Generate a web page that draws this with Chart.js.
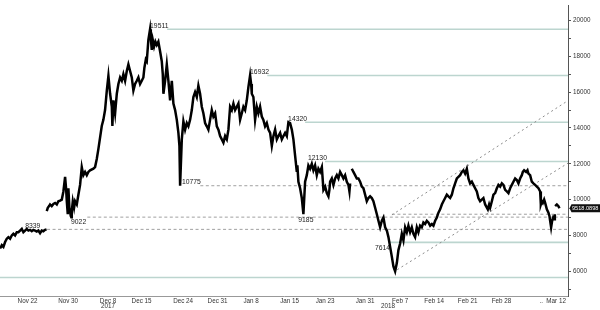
<!DOCTYPE html>
<html><head><meta charset="utf-8">
<script src="https://cdn.jsdelivr.net/npm/chart.js@4.4.1/dist/chart.umd.min.js"></script>
<style>html,body{margin:0;padding:0;background:#fff;}canvas{display:block;}</style>
</head><body>
<canvas id="c" width="600" height="310" style="width:600px;height:310px"></canvas>
<script>
// ---- time axis (days since 16 Nov 2017) ----
const tickDays   = [6.19, 14.54, 22.78, 29.69, 38.25, 45.36, 52.27, 60.2, 67.53, 75.77, 82.99, 90.0, 96.9, 103.9, 112.06, 115.15];
const tickLabels = ['Nov 22','Nov 30','Dec 8','Dec 15','Dec 24','Dec 31','Jan 8','Jan 15','Jan 23','Jan 31','Feb 7','Feb 14','Feb 21','Feb 28','..','Mar 12'];
const yearDays   = [22.78, 80.5];
const yearLabels = ['2017', '2018'];
const yTicks     = [5000,6000,7000,8000,9000,10000,11000,12000,13000,14000,15000,16000,17000,18000,19000,20000];

// ---- price series (null = gap in data) ----
const priceDays = [
0.52,0.87,1.20,1.55,1.90,2.23,2.58,2.93,3.26,3.61,3.96,4.29,4.64,4.99,5.32,5.67,6.02,6.35,6.70,7.05,7.38,7.73,8.08,8.41,8.76,9.11,9.44,9.79,10.10,
10.12,
10.14,10.35,10.62,10.82,11.16,11.51,11.86,12.21,12.54,12.89,13.24,13.57,13.92,14.12,14.27,14.47,14.60,14.80,15.09,15.20,15.30,15.51,15.77,15.98,16.33,16.66,17.01,17.36,17.69,18.04,18.39,18.72,19.07,19.75,20.10,20.45,20.78,21.48,21.81,22.16,22.52,22.85,23.20,23.55,23.67,23.88,24.23,24.58,24.91,25.26,25.61,25.94,26.29,26.64,26.97,27.32,27.67,28.00,28.35,28.70,29.03,29.38,29.73,30.06,30.27,30.56,30.76,31.09,31.44,31.59,31.79,32.00,32.27,32.54,32.82,33.15,33.51,33.85,34.06,34.19,34.54,34.89,35.22,35.57,35.92,36.25,36.60,36.95,37.28,37.49,37.63,37.98,38.31,38.66,39.01,39.34,39.69,40.04,40.37,40.72,41.07,41.40,41.75,42.10,42.43,42.78,43.13,43.46,43.81,44.16,44.49,44.85,45.20,45.53,45.88,46.23,46.56,46.91,47.26,47.59,47.94,48.29,48.62,48.97,49.32,49.65,50.00,50.35,50.68,51.03,51.38,51.71,52.06,52.27,52.41,52.74,53.09,53.44,53.77,54.12,54.47,54.80,55.15,55.50,55.84,56.19,56.54,56.87,57.22,57.57,57.90,58.25,58.60,58.93,59.28,59.63,59.96,60.31,60.66,60.99,61.34,61.69,61.81,62.02,62.37,62.72,63.05,63.40,63.75,64.08,64.43,64.78,65.11,65.46,65.81,66.14,66.49,66.85,67.18,67.53,67.88,68.21,68.41,68.56,68.91,69.24,69.59,69.94,70.27,70.62,70.97,71.30,71.65,72.00,72.33,72.54,72.68,
72.85,
73.03,73.36,73.71,74.06,74.39,74.74,75.09,75.42,75.77,76.12,76.45,76.80,77.15,77.48,77.84,78.19,78.52,78.87,79.22,79.55,79.90,80.25,80.58,80.93,81.28,81.61,81.96,82.31,82.64,82.99,83.34,83.67,84.02,84.37,84.70,85.05,85.40,85.73,86.08,86.43,86.76,87.11,87.46,87.79,88.14,88.49,88.82,89.18,89.53,89.86,90.21,90.56,90.89,91.24,91.59,91.92,92.27,92.62,92.95,93.30,93.65,93.98,94.33,94.68,95.01,95.36,95.71,96.04,96.39,96.74,97.07,97.42,97.77,98.10,98.45,98.80,99.13,99.48,99.83,100.16,100.52,101.07,101.34,101.55,101.90,102.23,102.58,102.93,103.26,103.61,103.96,104.29,104.64,104.99,105.32,105.67,106.02,106.35,106.70,107.05,107.38,107.73,108.08,108.29,108.56,108.97,109.24,109.44,109.79,110.14,110.47,110.82,111.18,111.51,111.86,112.00,112.21,112.41,112.68,112.89,113.24,113.57,113.77,113.92,114.12,114.33,114.54,114.74,114.89,
114.92,
114.95,115.30,115.63,115.84];
const priceValues = [
7275,7455,7362,7635,7820,7907,7820,8000,8093,8000,8180,8180,8273,8365,8180,8273,8365,8273,8311,8236,8311,8273,8218,8273,8125,8273,8236,8311,8339,
null,
9364,9544,9636,9729,9636,9762,9816,9729,9909,9947,10002,10455,11273,10635,9909,9184,10635,9544,9091,9022,9364,9909,9544,9909,9729,10275,10820,11818,11365,11545,11365,11545,11638,11725,11818,12271,12816,14109,14453,14998,16089,16907,15909,15200,14109,15544,14818,15909,16455,16820,16635,17000,16635,17180,17545,17180,16820,16089,16455,16635,16820,16455,16635,16820,17365,17818,17725,18909,19511,19002,18364,18909,18544,18816,18636,18816,18271,17725,17000,15909,16635,17545,16635,15544,16635,15364,14998,14453,13727,13002,10775,13362,14365,13907,14273,14093,14453,14998,15729,16002,15729,16362,15909,15184,14818,14273,14093,13907,14453,14998,14638,14818,14093,13907,13547,13362,13182,13547,13362,13907,15184,14998,15364,14998,15184,15364,14453,14818,15184,14998,15544,16275,16932,16455,15909,15729,14453,15184,14818,15184,14638,14453,14093,14273,13907,13727,13002,13547,13907,13362,13547,13727,13362,13547,13727,13547,14320,14273,13907,13362,12456,11545,11911,11000,10635,10089,9185,11000,11365,11911,11725,11998,11638,11911,11365,11725,11545,11818,10547,10727,10362,10182,10547,11000,11180,10820,11180,11365,11180,11545,11365,11180,11365,11000,10820,10455,10907,
null,
11725,11545,11365,11180,11180,11000,10727,10635,10275,9909,10089,10182,10089,9909,9544,9184,8818,8453,8818,9002,8453,8273,7907,7362,6816,6271,5998,6456,7182,7547,8093,7727,8453,8180,8545,8180,8453,8093,7907,8453,8180,8545,8453,8725,8638,8818,8725,8545,8638,8545,8818,9002,9271,9456,9729,9909,10089,10275,10182,10089,10275,10635,10907,11180,11273,11365,11545,11638,11453,11725,11180,10907,11000,10820,10635,10455,10089,9909,10002,10089,9729,9456,9729,9544,9909,10275,10362,10635,10820,10727,10907,10820,10547,10455,10362,10635,10820,11000,11180,11093,10907,11180,11365,11545,11638,11545,11638,11453,11365,11000,10907,10820,10727,10635,10455,9729,9909,9816,10002,9816,9456,9271,9091,8818,8453,8818,9002,8911,9184,
null,
9636,9729,9636,9518];
const lastPrice = 9518.0898;

// ---- marked levels ----
const levelValues     = [19511, 16932, 14320, 12130, 10775, 9185, 9022, 8339, 7614, 5656];
const levelLabels     = ['19511','16932','14320','12130','10775','9185','9022','8339','7614',''];
const levelLabelDays  = [31.44, 52.06, 59.9, 64.0, 38.0, 62.0, 15.15, 5.7, 77.8, 0.5];
const levelLabelAbove = [true, true, true, true, true, false, false, true, false, true];
const levelStartDays  = [34.95, 55.6, 63.4, 67.5, 41.8, 81.3, 18.5, 10.2, 80.9, 0.5];
const levelDashed     = [false, false, false, false, true, true, true, true, false, false];

// ---- trend channel ----
const upperTrendDays   = [81.3, 117.6];
const upperTrendValues = [9145, 15527];
const lowerTrendDays   = [82.4, 117.6];
const lowerTrendValues = [6090, 12036];

const X_MIN = 0.5, X_MAX = 117.6, Y_MIN = 4620, Y_MAX = 20820;
const FONT = '"Liberation Sans Narrow", "Liberation Sans", Arial, sans-serif';

const datasets = [];
datasets.push({
  label: 'price',
  data: priceDays.map((d, i) => ({x: d, y: priceValues[i]})),
  borderColor: '#000', borderWidth: 2.5, pointRadius: 0, tension: 0,
  spanGaps: false, order: 0, borderJoinStyle: 'miter'
});
levelValues.forEach((v, i) => {
  datasets.push({
    label: 'lvl' + i,
    data: [{x: levelStartDays[i], y: v}, {x: X_MAX, y: v}],
    borderColor: levelDashed[i] ? '#a0a0a0' : '#bcd5cf',
    borderWidth: levelDashed[i] ? 1 : 1.6,
    borderDash: levelDashed[i] ? [3, 2.5] : [],
    pointRadius: 0, order: 2
  });
});
datasets.push({
  label: 'upper', data: upperTrendDays.map((d, i) => ({x: d, y: upperTrendValues[i]})),
  borderColor: '#8c8c8c', borderWidth: 1, borderDash: [2, 3], pointRadius: 0, order: 1
});
datasets.push({
  label: 'lower', data: lowerTrendDays.map((d, i) => ({x: d, y: lowerTrendValues[i]})),
  borderColor: '#8c8c8c', borderWidth: 1, borderDash: [2, 3], pointRadius: 0, order: 1
});

const annotPlugin = {
  id: 'annot',
  afterDatasetsDraw(chart) {
    const ctx = chart.ctx, xs = chart.scales.x, ys = chart.scales.y;
    ctx.save();
    ctx.font = '6.8px ' + FONT;
    ctx.fillStyle = '#1a1a1a';
    ctx.textAlign = 'left';
    levelValues.forEach((v, i) => {
      if (!levelLabels[i]) return;
      const x = xs.getPixelForValue(levelLabelDays[i]);
      const y = ys.getPixelForValue(v);
      if (levelLabelAbove[i]) { ctx.textBaseline = 'alphabetic'; ctx.fillText(levelLabels[i], x, y - 1.5); }
      else { ctx.textBaseline = 'top'; ctx.fillText(levelLabels[i], x, y + 2); }
    });
    ctx.restore();
  },
  afterDraw(chart) {
    const ctx = chart.ctx, xs = chart.scales.x, ys = chart.scales.y;
    ctx.save();
    // year labels
    ctx.font = '6.3px ' + FONT;
    ctx.fillStyle = '#333';
    ctx.textAlign = 'center';
    ctx.textBaseline = 'middle';
    yearDays.forEach((d, i) => ctx.fillText(yearLabels[i], xs.getPixelForValue(d), 306.5));
    // last price tag
    const y = ys.getPixelForValue(lastPrice);
    const x0 = ys.left + 1.5;
    ctx.fillStyle = '#111';
    ctx.beginPath();
    ctx.moveTo(x0, y);
    ctx.lineTo(x0 + 2, y - 4);
    ctx.lineTo(600, y - 4);
    ctx.lineTo(600, y + 4);
    ctx.lineTo(x0 + 2, y + 4);
    ctx.closePath();
    ctx.fill();
    ctx.fillStyle = '#fff';
    ctx.font = '5.6px ' + FONT;
    ctx.textAlign = 'left';
    ctx.textBaseline = 'middle';
    ctx.fillText(lastPrice.toFixed(4), x0 + 2.5, y + 0.5);
    ctx.restore();
  }
};

new Chart(document.getElementById('c'), {
  type: 'line',
  data: { datasets },
  options: {
    responsive: false, animation: false, devicePixelRatio: 1,
    layout: { padding: 0 },
    plugins: { legend: { display: false }, tooltip: { enabled: false } },
    scales: {
      x: {
        type: 'linear', min: X_MIN, max: X_MAX,
        afterBuildTicks: s => { s.ticks = tickDays.map(v => ({value: v})); },
        afterFit: s => { s.height = 14; },
        ticks: {
          autoSkip: false, maxRotation: 0, padding: 0, color: '#333',
          font: { size: 6.3, family: FONT },
          callback: (v, i) => tickLabels[i]
        },
        grid: { drawOnChartArea: false, drawTicks: true, tickLength: 1, color: '#aaa' },
        border: { display: true, color: '#999', width: 1 }
      },
      y: {
        type: 'linear', position: 'right', min: Y_MIN, max: Y_MAX,
        afterBuildTicks: s => { s.ticks = yTicks.map(v => ({value: v})); },
        afterFit: s => { s.width = 32; },
        ticks: {
          autoSkip: false, padding: 2, color: '#333',
          font: { size: 6.3, family: FONT },
          callback: v => (v % 2000 === 0 ? String(v) : '')
        },
        grid: { drawOnChartArea: false, drawTicks: true, tickLength: 3, color: '#555' },
        border: { display: true, color: '#555', width: 1 }
      }
    }
  },
  plugins: [annotPlugin]
});
</script>
</body></html>
